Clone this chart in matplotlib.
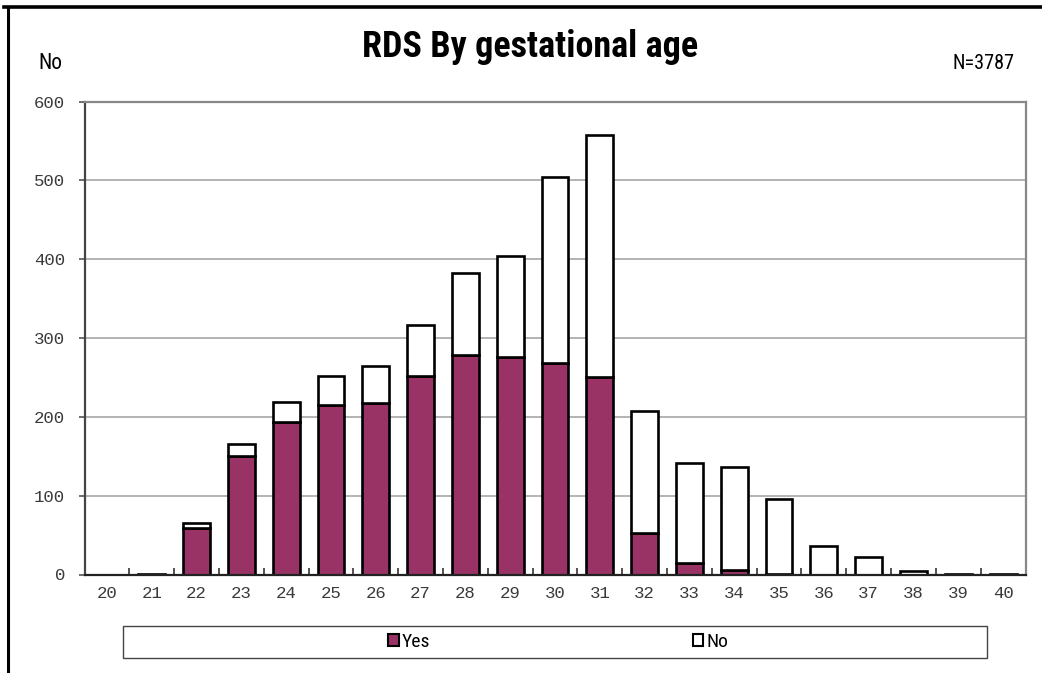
import matplotlib
matplotlib.use("Agg")
import matplotlib.pyplot as plt
from matplotlib.lines import Line2D
from matplotlib.patches import Rectangle, Patch
from matplotlib import font_manager
from matplotlib.font_manager import FontProperties

weeks = ["20", "21", "22", "23", "24", "25", "26", "27", "28", "29", "30",
         "31", "32", "33", "34", "35", "36", "37", "38", "39", "40"]
yes_vals = [0, 0, 59, 150, 194, 215, 217, 252, 279, 276, 268,
            251, 53, 15, 6, 1, 0, 0, 0, 0, 0]
no_vals = [0, 1, 6, 15, 25, 37, 48, 65, 104, 128, 236,
           307, 155, 126, 130, 95, 36, 22, 5, 1, 1]
yticks = [0, 100, 200, 300, 400, 500, 600]

# pick a condensed sans font if one is available
names = {f.name for f in font_manager.fontManager.ttflist}
cond_family = None
for cand in ["Roboto Condensed", "Liberation Sans Narrow", "Open Sans Condensed"]:
    if cand in names:
        cond_family = cand
        break
if cond_family is None:
    cond_family = "DejaVu Sans"
    scale = 0.8
else:
    scale = 1.0

title_fp = FontProperties(family=cond_family, weight="bold", size=26 * scale)
corner_fp = FontProperties(family=cond_family, size=15.5 * scale)
ncount_fp = FontProperties(family=cond_family, size=14.5 * scale)
leg_fp = FontProperties(family=cond_family, size=14 * scale)

fig = plt.figure(figsize=(10.42, 6.73), dpi=100)
ax = fig.add_axes([84.5 / 1042, 1 - 574.5 / 673, (1025.5 - 84.5) / 1042, (574.5 - 101.5) / 673])

x = list(range(len(weeks)))
ax.bar(x, yes_vals, width=0.6, color="#993366", edgecolor="black", linewidth=1.9, zorder=3, label="Yes")
ax.bar(x, no_vals, width=0.6, bottom=yes_vals, color="white", edgecolor="black", linewidth=1.9, zorder=3, label="No")

ax.set_xlim(-0.5, len(weeks) - 0.5)
ax.set_ylim(0, 600)
ax.set_yticks(yticks)
ax.set_yticklabels([str(v) for v in yticks], fontfamily="Liberation Mono", fontsize=12.5, color="#3a3a3a")
ax.set_xticks(x)
ax.set_xticklabels(weeks, fontfamily="Liberation Mono", fontsize=12.5, color="#3a3a3a")
ax.tick_params(axis="x", length=0, pad=8)
ax.tick_params(axis="y", length=4, width=1.2, color="#555555", direction="out", pad=10)
ax.set_xticks([i + 0.5 for i in x[:-1]], minor=True)
ax.tick_params(axis="x", which="minor", length=5, width=1.2, direction="in", color="#333333")

ax.yaxis.grid(True, color="#b3b3b3", linewidth=1.4, zorder=0)
ax.set_axisbelow(True)
for s in ["top", "right"]:
    ax.spines[s].set_color("#888888")
    ax.spines[s].set_linewidth(1.6)
ax.spines["left"].set_color("#444444")
ax.spines["left"].set_linewidth(1.6)
ax.spines["bottom"].set_color("#222222")
ax.spines["bottom"].set_linewidth(1.6)
ax.spines["bottom"].set_zorder(4)

fig.text(530 / 1042, 1 - 57 / 673, "RDS By gestational age", ha="center", va="baseline",
         fontproperties=title_fp)
fig.text(38 / 1042, 1 - 69 / 673, "No", ha="left", va="baseline", fontproperties=corner_fp)
fig.text(1015 / 1042, 1 - 69 / 673, "N=3787", ha="right", va="baseline", fontproperties=ncount_fp)

# legend box
fig.patches.append(Rectangle((123 / 1042, 1 - 658 / 673), (987 - 123) / 1042, (658 - 626) / 673,
                             transform=fig.transFigure, facecolor="white", edgecolor="#444444", linewidth=1.0))
handles = [Patch(facecolor="#993366", edgecolor="black", linewidth=1.5),
           Patch(facecolor="white", edgecolor="black", linewidth=1.5)]
fig.legend(handles, ["Yes", "No"], loc="center", bbox_to_anchor=(558 / 1042, 1 - 642 / 673),
           ncol=2, frameon=False, handlelength=0.55, handleheight=0.55,
           handletextpad=0.15, columnspacing=13.5, prop=leg_fp)

# figure border (top and left)
fig.add_artist(Line2D([4 / 1042, 1.0], [1 - 6.5 / 673, 1 - 6.5 / 673], transform=fig.transFigure,
                      color="black", linewidth=2.6))
fig.add_artist(Line2D([8 / 1042, 8 / 1042], [1 - 6.5 / 673, 0.0], transform=fig.transFigure,
                      color="black", linewidth=2.2))

fig.savefig("out.png", dpi=100)
